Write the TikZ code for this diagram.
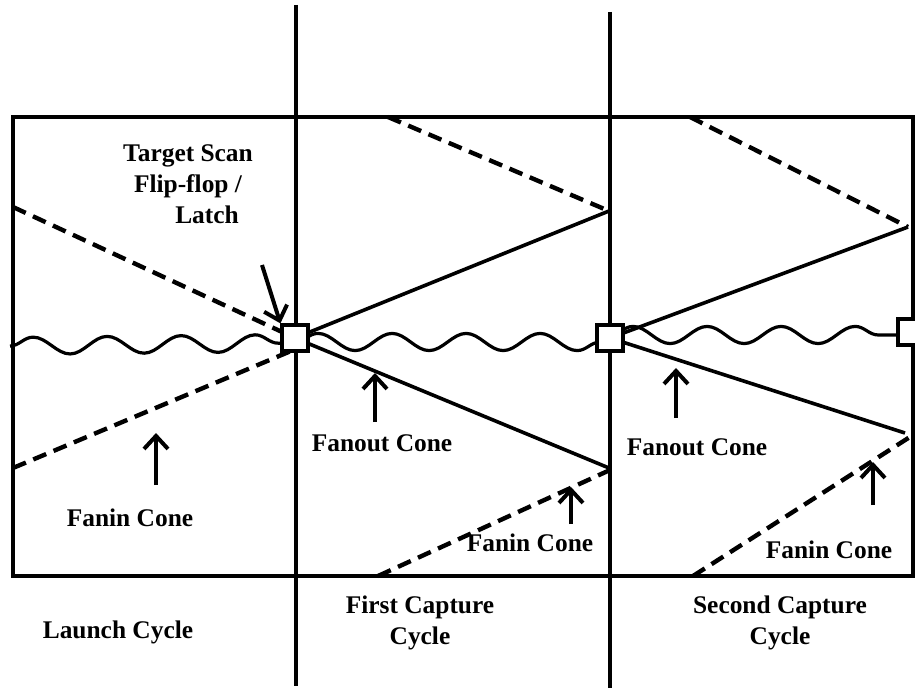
\documentclass[tikz,border=0pt]{standalone}
\usepackage{fontspec}
\setmainfont{Liberation Serif}
\usetikzlibrary{arrows.meta,decorations.pathmorphing}
\begin{document}
\begin{tikzpicture}[x=0.5pt,y=-0.5pt,
  frame/.style={line width=2.2pt},
  divider/.style={line width=2pt},
  cone/.style={line width=1.8pt},
  dcone/.style={line width=2.2pt, dash pattern=on 7pt off 4pt},
  wave/.style={line width=1.6pt, decorate, decoration={snake, segment length=37pt, amplitude=4.3pt}},
  ff/.style={draw, line width=1.6pt, fill=white, minimum size=13pt, inner sep=0pt},
  ptr/.style={line width=2pt, -{Straight Barb[length=6.5pt,width=12pt]}},
  lbl/.style={font=\bfseries\fontsize{12.7}{15.5}\selectfont, align=center, inner sep=0pt}
]
\useasboundingbox (0,0) rectangle (915,689);
\clip (0,0) rectangle (915,689);

% frame and cycle dividers
\draw[frame] (13,117) rectangle (913,576);
\coordinate (d1t) at (296,5);   \coordinate (d1b) at (296,686);
\coordinate (d2t) at (610,12);  \coordinate (d2b) at (610,688);
\draw[divider] (d1t) -- (d1b);
\draw[divider] (d2t) -- (d2b);

% flip-flop positions
\coordinate (c1) at (295,338);
\coordinate (c2) at (610,338);
\coordinate (c3) at (911,332);

% launch cycle cones
\coordinate (l1) at (13,207);
\coordinate (l2) at (13,468);
\coordinate (l2e) at (291,351);
\draw[dcone] (l1) -- (c1);
\draw[dcone] (l2) -- (l2e);

% first capture cones
\coordinate (p1) at (609,211);
\coordinate (p2) at (609,468);
\coordinate (q1) at (388,117);
\coordinate (q2) at (378,576);
\coordinate (q2e) at (610,470);
\draw[cone] (c1) -- (p1);
\draw[cone] (c1) -- (p2);
\draw[dcone] (q1) -- (p1);
\draw[dcone] (q2) -- (q2e);

% second capture cones
\coordinate (r1) at (908,227);
\coordinate (r2) at (905,433);
\coordinate (s1) at (690,117);
\coordinate (s2) at (693,576);
\coordinate (s2e) at (913,435);
\draw[cone] (c2) -- (r1);
\draw[cone] (c2) -- (r2);
\draw[dcone] (s1) -- (r1);
\draw[dcone] (s2) -- (s2e);

% signal waves
\coordinate (w0) at (10,346);
\coordinate (w1a) at (295,343);
\coordinate (w1b) at (295,342);
\coordinate (w2a) at (610,342);
\coordinate (w2b) at (610,335);
\coordinate (w3a) at (911,335);
\draw[wave] (w0) -- (w1a);
\draw[wave] (w1b) -- (w2a);
\draw[wave] (w2b) -- (w3a);

% flip-flops
\node[ff] (ff1) at (c1) {};
\node[ff] (ff2) at (c2) {};
\node[ff] (ff3) at (c3) {};

% labels
\node[lbl] (tgt) at (188,184) {Target Scan\\Flip-flop /\\\hspace*{19pt}Latch};
\node[lbl] (fin1) at (130,518) {Fanin Cone};
\node[lbl] (fout1) at (382,443) {Fanout Cone};
\node[lbl] (fin2) at (530,543) {Fanin Cone};
\node[lbl] (fout2) at (697,447) {Fanout Cone};
\node[lbl] (fin3) at (829,550) {Fanin Cone};
\node[lbl] (lc) at (118,632) {Launch Cycle};
\node[lbl] (fc) at (420,623) {First Capture\\Cycle};
\node[lbl] (sc) at (780,623) {Second Capture\\Cycle};

% pointer arrows
\coordinate (a0s) at (262,265);
\draw[ptr] (a0s) -- (ff1.north west);
\coordinate (a1s) at (156,485); \coordinate (a1e) at (156,433);
\draw[ptr] (a1s) -- (a1e);
\coordinate (a2s) at (375,422); \coordinate (a2e) at (375,373);
\draw[ptr] (a2s) -- (a2e);
\coordinate (a3s) at (571,524); \coordinate (a3e) at (571,487);
\draw[ptr] (a3s) -- (a3e);
\coordinate (a4s) at (676,418); \coordinate (a4e) at (676,368);
\draw[ptr] (a4s) -- (a4e);
\coordinate (a5s) at (873,505); \coordinate (a5e) at (873,462);
\draw[ptr] (a5s) -- (a5e);
\end{tikzpicture}
\end{document}
